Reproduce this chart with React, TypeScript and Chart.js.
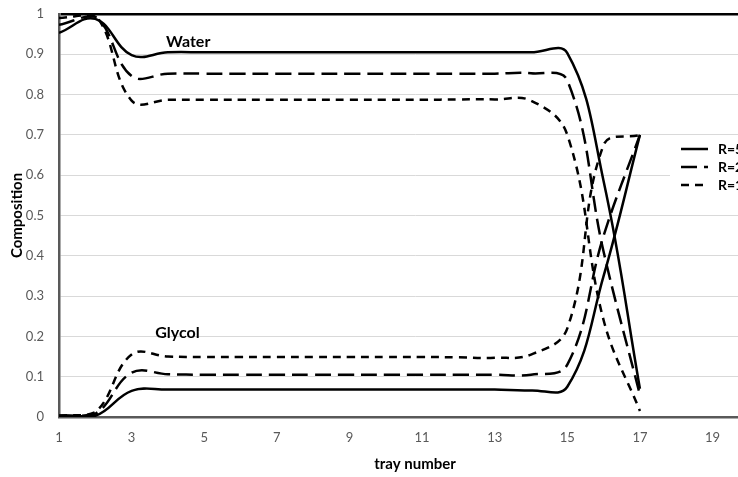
import { useEffect, useRef } from "react";
import { Chart, registerables } from "chart.js";

Chart.register(...registerables);

// Tray numbers (top of column = 1)
const trays = [1, 2, 3, 4, 5, 6, 7, 8, 9, 10, 11, 12, 13, 14, 15, 16, 17];

// Water mole fraction on each tray
const waterR5 = [0.953, 0.988, 0.898, 0.905, 0.905, 0.905, 0.905, 0.905, 0.905, 0.905, 0.905, 0.905, 0.905, 0.905, 0.903, 0.585, 0.07];
const waterR2 = [0.973, 0.993, 0.846, 0.852, 0.852, 0.852, 0.852, 0.852, 0.852, 0.852, 0.852, 0.852, 0.852, 0.853, 0.835, 0.41, 0.055];
const waterR1 = [0.99, 0.997, 0.785, 0.787, 0.787, 0.787, 0.787, 0.787, 0.787, 0.787, 0.787, 0.788, 0.788, 0.785, 0.7, 0.24, 0.015];

// Glycol mole fraction on each tray
const glycolR5 = [0.003, 0.003, 0.065, 0.068, 0.068, 0.068, 0.068, 0.068, 0.068, 0.068, 0.068, 0.068, 0.068, 0.066, 0.075, 0.35, 0.7];
const glycolR2 = [0.003, 0.008, 0.11, 0.106, 0.105, 0.105, 0.105, 0.105, 0.105, 0.105, 0.105, 0.105, 0.105, 0.105, 0.13, 0.45, 0.7];
const glycolR1 = [0.003, 0.012, 0.155, 0.15, 0.149, 0.149, 0.149, 0.149, 0.149, 0.149, 0.149, 0.148, 0.147, 0.155, 0.22, 0.675, 0.7];

const refluxLabels = ["R=5", "R=2", "R=1"];
const xTickValues = [1, 3, 5, 7, 9, 11, 13, 15, 17, 19];

const FONT = "Lato, 'Open Sans', sans-serif";
const dashPatterns: number[][] = [[], [16, 7], [8, 6]];

const toPoints = (ys: number[]) => trays.map((t, i) => ({ x: t, y: ys[i] }));

const lineStyle = (k: number) => ({
  borderColor: "#000000",
  borderWidth: 2.5,
  borderDash: dashPatterns[k],
  borderCapStyle: "butt" as const,
  pointRadius: 0,
  tension: 0.4,
  fill: false,
});

// Reflux legend box drawn on top of the plot, right side
const refluxLegend = {
  id: "refluxLegend",
  afterDatasetsDraw(chart: any) {
    const { ctx } = chart;
    ctx.save();
    ctx.fillStyle = "#ffffff";
    ctx.fillRect(670, 137, 120, 58);
    const rows = [149, 167, 185];
    refluxLabels.forEach((label, k) => {
      const y = rows[k];
      ctx.beginPath();
      ctx.setLineDash(dashPatterns[k]);
      ctx.lineWidth = 2.5;
      ctx.strokeStyle = "#000";
      ctx.moveTo(681, y);
      ctx.lineTo(708, y);
      ctx.stroke();
      ctx.setLineDash([]);
      ctx.fillStyle = "#000";
      ctx.font = `bold 14px ${FONT}`;
      ctx.textBaseline = "middle";
      ctx.textAlign = "left";
      ctx.fillText(label, 718, y);
    });
    ctx.restore();
  },
};

// Component names written beside their curve families
const curveNames = {
  id: "curveNames",
  afterDatasetsDraw(chart: any) {
    const { ctx, scales } = chart;
    const notes = [
      { text: "Water", x: 3.95, y: 0.93 },
      { text: "Glycol", x: 3.65, y: 0.21 },
    ];
    ctx.save();
    ctx.fillStyle = "#000";
    ctx.font = `bold 16px ${FONT}`;
    ctx.textBaseline = "middle";
    ctx.textAlign = "left";
    notes.forEach((n) => {
      ctx.fillText(n.text, scales.x.getPixelForValue(n.x), scales.y.getPixelForValue(n.y));
    });
    ctx.restore();
  },
};

export default function App() {
  const canvasRef = useRef<HTMLCanvasElement | null>(null);

  useEffect(() => {
    if (!canvasRef.current) return;
    const datasets: any[] = [];
    const waters = [waterR5, waterR2, waterR1];
    const glycols = [glycolR5, glycolR2, glycolR1];
    refluxLabels.forEach((label, k) => {
      datasets.push({ label: `Water ${label}`, data: toPoints(waters[k]), ...lineStyle(k) });
      datasets.push({ label: `Glycol ${label}`, data: toPoints(glycols[k]), ...lineStyle(k) });
    });

    const chart = new Chart(canvasRef.current, {
      type: "line",
      data: { datasets },
      plugins: [refluxLegend, curveNames],
      options: {
        animation: false,
        responsive: false,
        maintainAspectRatio: false,
        layout: { padding: { top: 14, right: 9, left: 0, bottom: 0 } },
        plugins: {
          legend: { display: false },
          tooltip: { enabled: false },
        },
        scales: {
          x: {
            type: "linear",
            min: 1,
            max: 20.61,
            afterBuildTicks: (axis: any) => {
              axis.ticks = xTickValues.map((v) => ({ value: v }));
            },
            afterFit: (scale: any) => {
              scale.height = 60;
              scale.paddingLeft = 0;
              scale.paddingRight = 0;
            },
            grid: { display: false, drawTicks: false },
            border: { display: true, color: "#595959", width: 2.5 },
            ticks: {
              color: "#595959",
              font: { family: FONT, size: 13 },
              padding: 13,
              maxRotation: 0,
              autoSkip: false,
            },
            title: {
              display: true,
              text: "tray number",
              color: "#000",
              font: { family: FONT, size: 15, weight: "bold" },
              padding: { top: 0, bottom: 4 },
            },
          },
          y: {
            type: "linear",
            min: 0,
            max: 1,
            afterFit: (scale: any) => {
              scale.width = 59;
              scale.paddingTop = 0;
              scale.paddingBottom = 0;
            },
            grid: {
              drawTicks: false,
              color: (c: any) => (c.tick && c.tick.value === 1 ? "#000000" : "#d9d9d9"),
              lineWidth: (c: any) => (c.tick && c.tick.value === 1 ? 2.5 : 1),
            },
            border: { display: true, color: "#595959", width: 2.5 },
            ticks: {
              stepSize: 0.1,
              color: "#595959",
              font: { family: FONT, size: 13 },
              padding: 15,
              callback: (v: any) => String(Number(Number(v).toFixed(1))),
            },
            title: {
              display: true,
              text: "Composition",
              color: "#000",
              font: { family: FONT, size: 15, weight: "bold" },
              padding: { top: 8, bottom: 0 },
            },
          },
        },
      },
    });
    return () => chart.destroy();
  }, []);

  return (
    <div
      style={{
        position: "fixed",
        left: 0,
        top: 0,
        width: 738,
        height: 477,
        overflow: "hidden",
        background: "#ffffff",
      }}
    >
      <canvas ref={canvasRef} width={780} height={477} style={{ display: "block" }} />
    </div>
  );
}
